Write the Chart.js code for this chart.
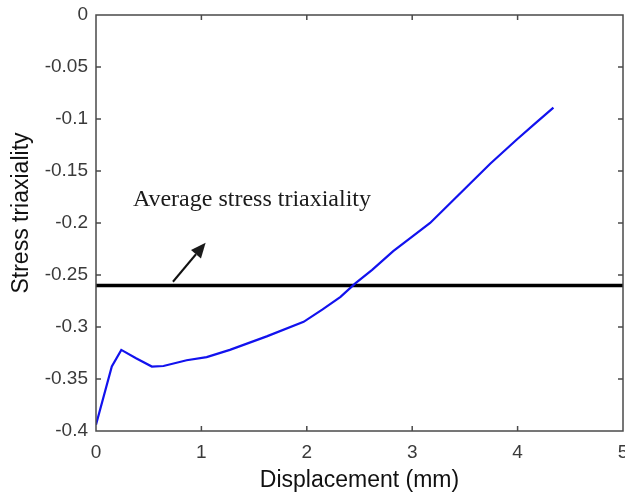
<!DOCTYPE html>
<html>
<head>
<meta charset="utf-8">
<script src="https://cdn.jsdelivr.net/npm/chart.js@4.4.1/dist/chart.umd.min.js"></script>
<style>
  html, body { margin: 0; padding: 0; background: #fff; }
  #wrap { width: 625px; height: 497px; }
</style>
</head>
<body>
<div id="wrap"><canvas id="c"></canvas></div>
<script>
// Dane
const displacement = [0, 0.15, 0.24, 0.38, 0.53, 0.64, 0.86, 1.05, 1.27, 1.62, 1.97, 2.15, 2.32, 2.46, 2.62, 2.82, 3.0, 3.17, 3.36, 3.55, 3.74, 3.99, 4.17, 4.34];
const triaxiality = [-0.394, -0.338, -0.322, -0.330, -0.338, -0.3375, -0.332, -0.329, -0.322, -0.309, -0.295, -0.283, -0.271, -0.258, -0.245, -0.227, -0.213, -0.200, -0.181, -0.162, -0.143, -0.120, -0.104, -0.089];
const averageTriaxiality = -0.26;
const xRange = [0, 5];
const yRange = [-0.4, 0];
const annotationText = "Average stress triaxiality";
const annotationAt = [0.35, -0.184];          // lewy dolny róg napisu (dane)
const arrowFrom = [0.73, -0.2565];
const arrowTo = [1.04, -0.219];
const yTitle = "Stress triaxiality";

const curve = displacement.map((x, i) => ({ x: x, y: triaxiality[i] }));
const avgLine = xRange.map(x => ({ x: x, y: averageTriaxiality }));

const axisColor = "#4a4a4a";
const sans = "'Liberation Sans', Arial, sans-serif";

// Ramka i znaczniki skierowane do środka
const boxPlugin = {
  id: "box",
  afterDraw(chart) {
    const { ctx, chartArea: a, scales } = chart;
    const len = 5;
    ctx.save();
    ctx.strokeStyle = axisColor;
    ctx.lineWidth = 1.5;
    ctx.strokeRect(a.left, a.top, a.right - a.left, a.bottom - a.top);
    ctx.beginPath();
    scales.x.ticks.forEach(t => {
      const px = scales.x.getPixelForValue(t.value);
      if (t.value === xRange[0] || t.value === xRange[1]) return;
      ctx.moveTo(px, a.bottom); ctx.lineTo(px, a.bottom - len);
      ctx.moveTo(px, a.top); ctx.lineTo(px, a.top + len);
    });
    scales.y.ticks.forEach(t => {
      const py = scales.y.getPixelForValue(t.value);
      if (t.value === yRange[0] || t.value === yRange[1]) return;
      ctx.moveTo(a.left, py); ctx.lineTo(a.left + len, py);
      ctx.moveTo(a.right, py); ctx.lineTo(a.right - len, py);
    });
    ctx.stroke();

    // tytuł osi Y (w oryginale lekko przesunięty w górę)
    ctx.fillStyle = "#111";
    ctx.font = "23px " + sans;
    ctx.textAlign = "center";
    ctx.textBaseline = "middle";
    ctx.translate(22, (a.top + a.bottom) / 2 - 10);
    ctx.rotate(-Math.PI / 2);
    ctx.fillText(yTitle, 0, 0);
    ctx.restore();
  }
};

// Napis i strzałka
const notePlugin = {
  id: "note",
  afterDatasetsDraw(chart) {
    const { ctx, scales } = chart;
    const X = v => scales.x.getPixelForValue(v);
    const Y = v => scales.y.getPixelForValue(v);
    ctx.save();
    ctx.fillStyle = "#1a1a1a";
    ctx.font = "24px 'Liberation Serif', 'Times New Roman', serif";
    ctx.textBaseline = "alphabetic";
    ctx.fillText(annotationText, X(annotationAt[0]), Y(annotationAt[1]));

    const x1 = X(arrowFrom[0]), y1 = Y(arrowFrom[1]);
    const x2 = X(arrowTo[0]), y2 = Y(arrowTo[1]);
    const ang = Math.atan2(y2 - y1, x2 - x1);
    const head = 15, half = 6.5;
    const bx = x2 - head * Math.cos(ang), by = y2 - head * Math.sin(ang);
    ctx.strokeStyle = "#111";
    ctx.lineWidth = 2;
    ctx.beginPath();
    ctx.moveTo(x1, y1);
    ctx.lineTo(bx, by);
    ctx.stroke();
    ctx.beginPath();
    ctx.moveTo(x2, y2);
    ctx.lineTo(bx + half * Math.sin(ang), by - half * Math.cos(ang));
    ctx.lineTo(bx - half * Math.sin(ang), by + half * Math.cos(ang));
    ctx.closePath();
    ctx.fill();
    ctx.restore();
  }
};

new Chart(document.getElementById("c"), {
  type: "line",
  data: {
    datasets: [
      {
        data: curve,
        borderColor: "#1212ee",
        borderWidth: 2.2,
        pointRadius: 0,
        tension: 0,
      },
      {
        data: avgLine,
        borderColor: "#000",
        borderWidth: 3.5,
        pointRadius: 0,
      },
    ],
  },
  options: {
    responsive: true,
    maintainAspectRatio: false,
    animation: false,
    layout: { padding: { top: 15, right: 2, left: 0, bottom: 0 } },
    plugins: { legend: { display: false }, tooltip: { enabled: false } },
    scales: {
      x: {
        type: "linear",
        min: xRange[0],
        max: xRange[1],
        grid: { display: false },
        border: { display: false },
        ticks: {
          stepSize: 1,
          padding: 2,
          color: "#3a3a3a",
          font: { family: sans, size: 19 },
        },
        title: {
          display: true,
          text: "Displacement (mm)",
          color: "#111",
          padding: 0,
          font: { family: sans, size: 23, lineHeight: 1.4 },
        },
        afterFit(s) {
          s.height = 66;
          s.paddingLeft = 0;
          s.paddingRight = 0;
        },
      },
      y: {
        min: yRange[0],
        max: yRange[1],
        grid: { display: false },
        border: { display: false },
        ticks: {
          stepSize: 0.05,
          padding: 0,
          color: "#3a3a3a",
          font: { family: sans, size: 19 },
          callback: v => String(Math.round(v * 100) / 100),
        },
        afterFit(s) {
          s.width = 96;
          s.paddingTop = 0;
          s.paddingBottom = 0;
        },
      },
    },
  },
  plugins: [boxPlugin, notePlugin],
});
</script>
</body>
</html>
